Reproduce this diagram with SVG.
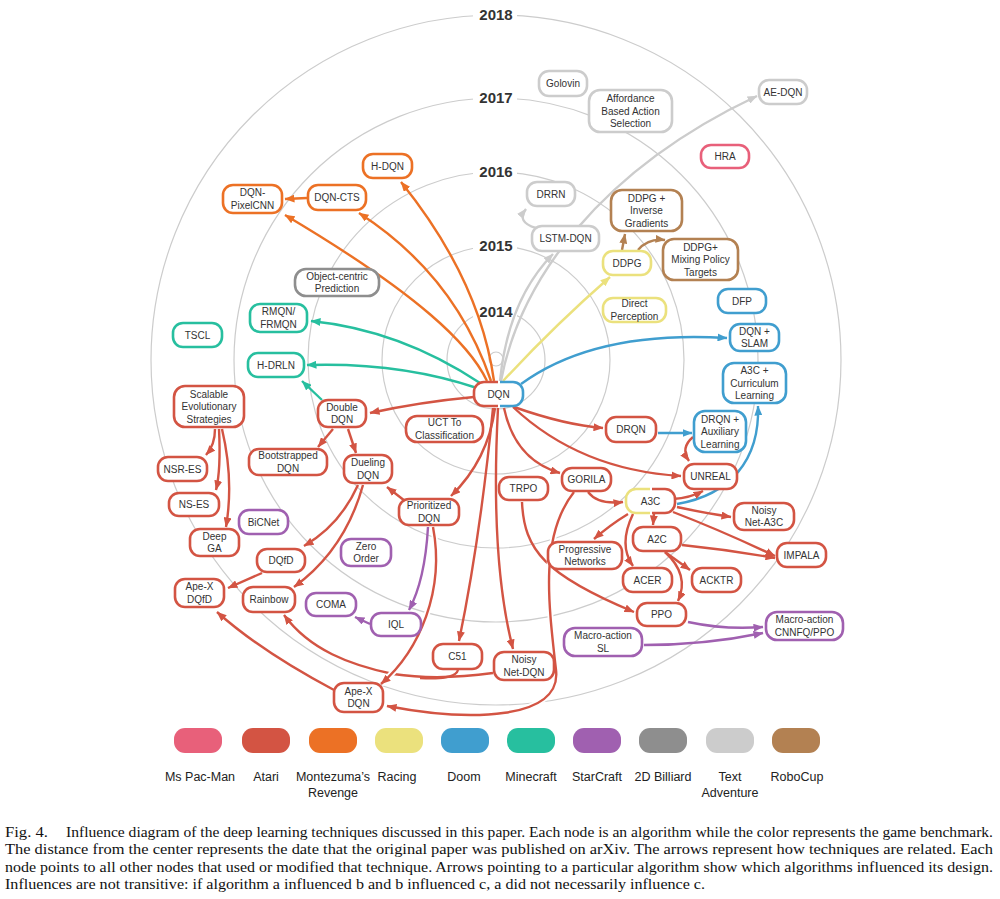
<svg xmlns="http://www.w3.org/2000/svg" width="1000" height="899" viewBox="0 0 1000 899">
<style>
.ring{fill:none;stroke:#cccccc;stroke-width:1.2}
.yr{font-family:"Liberation Sans",Arial,sans-serif;font-weight:bold;font-size:15px;fill:#333;text-anchor:middle}
.nd rect{fill:#fff;stroke-width:2.6}
.nd text{font-family:"Liberation Sans",Arial,sans-serif;font-size:10px;fill:#333;text-anchor:middle}
.pink{stroke:#e8607a}.red{stroke:#d35443}.org{stroke:#ec7125}.yel{stroke:#ebe17d}.blu{stroke:#409ecf}
.tea{stroke:#27bf9f}.pur{stroke:#a060b0}.dgr{stroke:#8e8e8e}.lgr{stroke:#cccccc}.brn{stroke:#b38152}
.e path{fill:none;stroke-width:2.4}
.e .red{marker-end:url(#a-red)}.e .org{marker-end:url(#a-org)}.e .yel{marker-end:url(#a-yel)}
.e .blu{marker-end:url(#a-blu)}.e .tea{marker-end:url(#a-tea)}.e .pur{marker-end:url(#a-pur)}
.e .lgr{marker-end:url(#a-lgr)}.e .brn{marker-end:url(#a-brn)}
.e .nm{marker-end:none}
.e .halo{stroke:#fff;stroke-width:6;marker-end:none}
.lg text{font-family:"Liberation Sans",Arial,sans-serif;font-size:12.5px;fill:#222;text-anchor:middle}
.cap{font-family:"Liberation Serif","Times New Roman",serif;font-size:14px;fill:#111}
</style>
<defs>
<marker id="a-red" viewBox="0 0 10 8" refX="9.5" refY="4" markerWidth="10" markerHeight="8" markerUnits="userSpaceOnUse" orient="auto"><path d="M0,0 L10,4 L0,8 z" fill="#d35443"/></marker>
<marker id="a-org" viewBox="0 0 10 8" refX="9.5" refY="4" markerWidth="10" markerHeight="8" markerUnits="userSpaceOnUse" orient="auto"><path d="M0,0 L10,4 L0,8 z" fill="#ec7125"/></marker>
<marker id="a-yel" viewBox="0 0 10 8" refX="9.5" refY="4" markerWidth="10" markerHeight="8" markerUnits="userSpaceOnUse" orient="auto"><path d="M0,0 L10,4 L0,8 z" fill="#ebe17d"/></marker>
<marker id="a-blu" viewBox="0 0 10 8" refX="9.5" refY="4" markerWidth="10" markerHeight="8" markerUnits="userSpaceOnUse" orient="auto"><path d="M0,0 L10,4 L0,8 z" fill="#409ecf"/></marker>
<marker id="a-tea" viewBox="0 0 10 8" refX="9.5" refY="4" markerWidth="10" markerHeight="8" markerUnits="userSpaceOnUse" orient="auto"><path d="M0,0 L10,4 L0,8 z" fill="#27bf9f"/></marker>
<marker id="a-pur" viewBox="0 0 10 8" refX="9.5" refY="4" markerWidth="10" markerHeight="8" markerUnits="userSpaceOnUse" orient="auto"><path d="M0,0 L10,4 L0,8 z" fill="#a060b0"/></marker>
<marker id="a-lgr" viewBox="0 0 10 8" refX="9.5" refY="4" markerWidth="10" markerHeight="8" markerUnits="userSpaceOnUse" orient="auto"><path d="M0,0 L10,4 L0,8 z" fill="#cccccc"/></marker>
<marker id="a-brn" viewBox="0 0 10 8" refX="9.5" refY="4" markerWidth="10" markerHeight="8" markerUnits="userSpaceOnUse" orient="auto"><path d="M0,0 L10,4 L0,8 z" fill="#b38152"/></marker>
<clipPath id="dqnL"><rect x="460" y="370" width="38" height="50"/></clipPath>
<clipPath id="dqnR"><rect x="500" y="370" width="40" height="50"/></clipPath>
<clipPath id="a3cL"><rect x="615" y="480" width="35" height="45"/></clipPath>
<clipPath id="a3cR"><rect x="652" y="480" width="35" height="45"/></clipPath>
</defs>
<rect width="1000" height="899" fill="#fff"/>

<g id="rings">
<circle class="ring" cx="496" cy="359" r="7"/>
<circle class="ring" cx="496" cy="360" r="49"/>
<circle class="ring" cx="496" cy="360" r="114"/>
<circle class="ring" cx="496" cy="360" r="188"/>
<circle class="ring" cx="496" cy="360" r="262"/>
<circle class="ring" cx="496" cy="360" r="345"/>
<rect x="473" y="6" width="44" height="18" fill="#fff"/>
<rect x="473" y="89" width="44" height="18" fill="#fff"/>
<rect x="473" y="163" width="44" height="18" fill="#fff"/>
<rect x="473" y="237" width="44" height="18" fill="#fff"/>
<rect x="473" y="303" width="44" height="18" fill="#fff"/>
<text class="yr" x="496" y="20">2018</text>
<text class="yr" x="496" y="103">2017</text>
<text class="yr" x="496" y="177">2016</text>
<text class="yr" x="496" y="251">2015</text>
<text class="yr" x="496" y="317">2014</text>
</g>

<g id="connectors" class="e">
<path class="org" d="M494 381 Q480 280 401 182"/>
<path class="org" d="M491 381 Q455 275 359 213"/>
<path class="org" d="M487 381 C470 345 420 295 285 215"/>
<path class="org" d="M307 198 L285 199"/>
<path class="tea" d="M480 383 Q400 330 311 321"/>
<path class="tea" d="M477 388 Q400 362 307 365"/>
<path class="tea" d="M322 400 L302 381"/>
<path class="yel" d="M503 381 Q555 325 610 277"/>
<path class="lgr" d="M500 381 Q508 300 553 254"/>
<path class="lgr" d="M501 381 C520 280 600 170 757 96"/>
<path class="lgr" d="M536 228 Q516 222 526 209"/>
<path class="brn" d="M622 250 L625 234"/>
<path class="brn" d="M638 250 Q648 238 665 240"/>
<path class="blu" d="M521 384 Q595 330 727 338"/>
<path class="blu" d="M658 433 L692 433"/>
<path class="blu" d="M677 504 C730 495 760 460 758 406"/>
<path class="red" d="M474 397 Q420 402 370 413"/>
<path class="red" d="M514 407 Q565 425 603 428"/>
<path class="red" d="M513 407 Q580 470 681 476"/>
<path class="red" d="M504 408 Q515 460 560 473"/>
<path class="red" d="M495 408 Q488 460 451 496"/>
<path class="red" d="M493 408 Q480 540 459 641"/>
<path class="red" d="M498 408 Q490 560 513 649"/>
<path class="red" d="M693 437 Q680 448 689 461"/>
<path class="red" d="M588 492 Q598 505 623 502"/>
<path class="red" d="M522 502 C524 550 545 575 634 612"/>
<path class="red nm" d="M458 670 C456 678 440 679 420 678"/>
<path class="red" d="M493 673 C450 679 420 678 393 674 C350 665 310 650 284 615"/>
<path class="halo" d="M574 492 C540 535 548 600 556 670 C562 720 470 722 387 706"/>
<path class="red" d="M574 492 C540 535 548 600 556 670 C562 720 470 722 387 706"/>
<path class="halo" d="M433 527 C445 590 420 650 381 684"/>
<path class="red" d="M433 527 C445 590 420 650 381 684"/>
<path class="red" d="M673 499 Q690 498 703 491"/>
<path class="red" d="M677 507 Q700 512 731 517"/>
<path class="red" d="M673 512 Q720 530 775 556"/>
<path class="red" d="M682 545 Q730 550 775 558"/>
<path class="red" d="M654 514 L653 525"/>
<path class="red" d="M628 514 Q610 525 594 539"/>
<path class="red" d="M633 514 Q618 545 633 566"/>
<path class="red" d="M665 552 L690 570"/>
<path class="red" d="M665 552 Q690 575 678 601"/>
<path class="red" d="M405 501 L387 487"/>
<path class="pur" d="M428 527 Q425 580 409 610"/>
<path class="pur" d="M370 624 L355 617"/>
<path class="red" d="M358 485 Q340 525 304 546"/>
<path class="red" d="M363 485 Q345 550 294 587"/>
<path class="red" d="M333 429 L318 447"/>
<path class="red" d="M348 429 L356 453"/>
<path class="red" d="M262 573 L228 588"/>
<path class="red" d="M334 690 Q262 652 217 612"/>
<path class="red" d="M215 429 Q215 445 206 455"/>
<path class="red" d="M219 429 Q221 470 216 490"/>
<path class="red" d="M222 429 Q234 480 226 527"/>
<path class="pur" d="M688 622 Q725 630 763 627"/>
<path class="pur" d="M644 645 Q705 645 763 633"/>
</g>

<g id="nodes" class="nd">
<g id="n-golovin"><rect class="lgr" x="539" y="71" width="48" height="25" rx="10"/><text x="563" y="87">Golovin</text></g>
<g id="n-affordance"><rect class="lgr" x="589" y="90" width="83" height="42" rx="11"/><text x="630.5" y="102"><tspan x="630.5">Affordance</tspan><tspan x="630.5" dy="12.5">Based Action</tspan><tspan x="630.5" dy="12.5">Selection</tspan></text></g>
<g id="n-aedqn"><rect class="lgr" x="759" y="80" width="48" height="24" rx="10"/><text x="783" y="95.6">AE-DQN</text></g>
<g id="n-hra"><rect class="pink" x="701" y="145" width="48" height="23" rx="10"/><text x="725" y="160">HRA</text></g>
<g id="n-drrn"><rect class="lgr" x="527" y="182" width="48" height="24" rx="10"/><text x="551" y="197.6">DRRN</text></g>
<g id="n-lstmdqn"><rect class="lgr" x="532" y="226" width="67" height="25" rx="10"/><text x="565.5" y="242">LSTM-DQN</text></g>
<g id="n-ddpgig"><rect class="brn" x="611" y="190" width="71" height="41" rx="11"/><text x="646.5" y="201.6"><tspan x="646.5">DDPG +</tspan><tspan x="646.5" dy="12.5">Inverse</tspan><tspan x="646.5" dy="12.5">Gradients</tspan></text></g>
<g id="n-ddpg"><rect class="yel" x="603" y="251" width="48" height="24" rx="10"/><text x="627" y="266.6">DDPG</text></g>
<g id="n-ddpgmpt"><rect class="brn" x="663" y="239" width="75" height="41" rx="11"/><text x="700.5" y="250.6"><tspan x="700.5">DDPG+</tspan><tspan x="700.5" dy="12.5">Mixing Policy</tspan><tspan x="700.5" dy="12.5">Targets</tspan></text></g>
<g id="n-directperception"><rect class="yel" x="603" y="298" width="63" height="24" rx="10"/><text x="634.5" y="307.4"><tspan x="634.5">Direct</tspan><tspan x="634.5" dy="12.5">Perception</tspan></text></g>
<g id="n-dfp"><rect class="blu" x="718" y="289" width="48" height="24" rx="10"/><text x="742" y="304.6">DFP</text></g>
<g id="n-dqnslam"><rect class="blu" x="730" y="324" width="49" height="27" rx="10"/><text x="754.5" y="334.9"><tspan x="754.5">DQN +</tspan><tspan x="754.5" dy="12.5">SLAM</tspan></text></g>
<g id="n-a3ccl"><rect class="blu" x="723" y="363" width="63" height="40" rx="11"/><text x="754.5" y="374.1"><tspan x="754.5">A3C +</tspan><tspan x="754.5" dy="12.5">Curriculum</tspan><tspan x="754.5" dy="12.5">Learning</tspan></text></g>
<g id="n-drqnal"><rect class="blu" x="694" y="411" width="52" height="41" rx="11"/><text x="720" y="422.6"><tspan x="720">DRQN +</tspan><tspan x="720" dy="12.5">Auxiliary</tspan><tspan x="720" dy="12.5">Learning</tspan></text></g>
<g id="n-drqn"><rect class="red" x="606" y="417" width="50" height="25" rx="10"/><text x="631" y="433">DRQN</text></g>
<g id="n-unreal"><rect class="red" x="684" y="464" width="53" height="25" rx="10"/><text x="710.5" y="480">UNREAL</text></g>
<g id="n-dqn"><rect x="474" y="382" width="49" height="24" rx="10" style="stroke:none"/><rect class="red" x="474" y="382" width="49" height="24" rx="10" clip-path="url(#dqnL)"/><rect class="blu" x="474" y="382" width="49" height="24" rx="10" clip-path="url(#dqnR)"/><text x="498.5" y="397.6">DQN</text></g>
<g id="n-uct"><rect class="red" x="406" y="416" width="77" height="26" rx="11"/><text x="444.5" y="426.4"><tspan x="444.5">UCT To</tspan><tspan x="444.5" dy="12.5">Classification</tspan></text></g>
<g id="n-gorila"><rect class="red" x="562" y="468" width="49" height="23" rx="10"/><text x="586.5" y="483">GORILA</text></g>
<g id="n-trpo"><rect class="red" x="499" y="477" width="49" height="23" rx="10"/><text x="523.5" y="492">TRPO</text></g>
<g id="n-a3c"><rect x="626" y="489" width="49" height="24" rx="10" style="stroke:none"/><rect class="yel" x="626" y="489" width="49" height="24" rx="10" clip-path="url(#a3cL)"/><rect class="red" x="626" y="489" width="49" height="24" rx="10" clip-path="url(#a3cR)"/><text x="650.5" y="504.6">A3C</text></g>
<g id="n-noisya3c"><rect class="red" x="734" y="503" width="60" height="27" rx="10"/><text x="764" y="513.9"><tspan x="764">Noisy</tspan><tspan x="764" dy="12.5">Net-A3C</tspan></text></g>
<g id="n-a2c"><rect class="red" x="633" y="527" width="48" height="24" rx="10"/><text x="657" y="542.6">A2C</text></g>
<g id="n-prognet"><rect class="red" x="548" y="542" width="74" height="27" rx="10"/><text x="585" y="552.9"><tspan x="585">Progressive</tspan><tspan x="585" dy="12.5">Networks</tspan></text></g>
<g id="n-impala"><rect class="red" x="777" y="543" width="49" height="24" rx="10"/><text x="801.5" y="558.6">IMPALA</text></g>
<g id="n-acer"><rect class="red" x="623" y="568" width="49" height="24" rx="10"/><text x="647.5" y="583.6">ACER</text></g>
<g id="n-acktr"><rect class="red" x="692" y="568" width="49" height="24" rx="10"/><text x="716.5" y="583.6">ACKTR</text></g>
<g id="n-ppo"><rect class="red" x="637" y="603" width="49" height="23" rx="10"/><text x="661.5" y="618">PPO</text></g>
<g id="n-macrocnnfq"><rect class="pur" x="766" y="612" width="77" height="28" rx="11"/><text x="804.5" y="623.4"><tspan x="804.5">Macro-action</tspan><tspan x="804.5" dy="12.5">CNNFQ/PPO</tspan></text></g>
<g id="n-macrosl"><rect class="pur" x="564" y="628" width="78" height="28" rx="11"/><text x="603" y="639.4"><tspan x="603">Macro-action</tspan><tspan x="603" dy="12.5">SL</tspan></text></g>
<g id="n-noisydqn"><rect class="red" x="494" y="652" width="60" height="28" rx="10"/><text x="524" y="663.4"><tspan x="524">Noisy</tspan><tspan x="524" dy="12.5">Net-DQN</tspan></text></g>
<g id="n-c51"><rect class="red" x="433" y="644" width="49" height="25" rx="10"/><text x="457.5" y="660">C51</text></g>
<g id="n-apexdqn"><rect class="red" x="334" y="683" width="49" height="29" rx="10"/><text x="358.5" y="694.9"><tspan x="358.5">Ape-X</tspan><tspan x="358.5" dy="12.5">DQN</tspan></text></g>
<g id="n-iql"><rect class="pur" x="371" y="613" width="50" height="23" rx="10"/><text x="396" y="628">IQL</text></g>
<g id="n-coma"><rect class="pur" x="306" y="593" width="50" height="23" rx="10"/><text x="331" y="608">COMA</text></g>
<g id="n-zeroorder"><rect class="pur" x="341" y="539" width="50" height="27" rx="10"/><text x="366" y="549.9"><tspan x="366">Zero</tspan><tspan x="366" dy="12.5">Order</tspan></text></g>
<g id="n-prioritized"><rect class="red" x="399" y="499" width="60" height="26" rx="10"/><text x="429" y="509.4"><tspan x="429">Prioritized</tspan><tspan x="429" dy="12.5">DQN</tspan></text></g>
<g id="n-rainbow"><rect class="red" x="243" y="587" width="52" height="25" rx="10"/><text x="269" y="603">Rainbow</text></g>
<g id="n-dqfd"><rect class="red" x="257" y="549" width="48" height="23" rx="10"/><text x="281" y="564">DQfD</text></g>
<g id="n-apexdqfd"><rect class="red" x="175" y="579" width="49" height="28" rx="10"/><text x="199.5" y="590.4"><tspan x="199.5">Ape-X</tspan><tspan x="199.5" dy="12.5">DQfD</tspan></text></g>
<g id="n-deepga"><rect class="red" x="190" y="529" width="49" height="27" rx="10"/><text x="214.5" y="539.9"><tspan x="214.5">Deep</tspan><tspan x="214.5" dy="12.5">GA</tspan></text></g>
<g id="n-bicnet"><rect class="pur" x="239" y="510" width="49" height="24" rx="10"/><text x="263.5" y="525.6">BiCNet</text></g>
<g id="n-nses"><rect class="red" x="169" y="493" width="50" height="23" rx="10"/><text x="194" y="508">NS-ES</text></g>
<g id="n-nsres"><rect class="red" x="158" y="457" width="49" height="24" rx="10"/><text x="182.5" y="472.6">NSR-ES</text></g>
<g id="n-scalablees"><rect class="red" x="174" y="386" width="70" height="41" rx="11"/><text x="209" y="397.6"><tspan x="209">Scalable</tspan><tspan x="209" dy="12.5">Evolutionary</tspan><tspan x="209" dy="12.5">Strategies</tspan></text></g>
<g id="n-bootstrapped"><rect class="red" x="249" y="449" width="78" height="26" rx="10"/><text x="288" y="459.4"><tspan x="288">Bootstrapped</tspan><tspan x="288" dy="12.5">DQN</tspan></text></g>
<g id="n-dueling"><rect class="red" x="344" y="455" width="48" height="28" rx="10"/><text x="368" y="466.4"><tspan x="368">Dueling</tspan><tspan x="368" dy="12.5">DQN</tspan></text></g>
<g id="n-double"><rect class="red" x="318" y="400" width="48" height="27" rx="10"/><text x="342" y="410.9"><tspan x="342">Double</tspan><tspan x="342" dy="12.5">DQN</tspan></text></g>
<g id="n-hdrln"><rect class="tea" x="248" y="353" width="56" height="24" rx="10"/><text x="276" y="368.6">H-DRLN</text></g>
<g id="n-rmqn"><rect class="tea" x="250" y="304" width="57" height="28" rx="10"/><text x="278.5" y="315.4"><tspan x="278.5">RMQN/</tspan><tspan x="278.5" dy="12.5">FRMQN</tspan></text></g>
<g id="n-tscl"><rect class="tea" x="173" y="323" width="49" height="24" rx="10"/><text x="197.5" y="338.6">TSCL</text></g>
<g id="n-objectcentric"><rect class="dgr" x="295" y="269" width="84" height="27" rx="11"/><text x="337" y="279.9"><tspan x="337">Object-centric</tspan><tspan x="337" dy="12.5">Prediction</tspan></text></g>
<g id="n-dqnpixelcnn"><rect class="org" x="223" y="185" width="59" height="28" rx="10"/><text x="252.5" y="196.4"><tspan x="252.5">DQN-</tspan><tspan x="252.5" dy="12.5">PixelCNN</tspan></text></g>
<g id="n-dqncts"><rect class="org" x="308" y="185" width="58" height="25" rx="10"/><text x="337" y="201">DQN-CTS</text></g>
<g id="n-hdqn"><rect class="org" x="363" y="154" width="49" height="24" rx="10"/><text x="387.5" y="169.6">H-DQN</text></g>
</g>

<g id="legend" class="lg">
<rect x="174" y="728" width="48" height="25" rx="11" fill="#e8607a"/>
<rect x="242" y="728" width="48" height="25" rx="11" fill="#d35443"/>
<rect x="309" y="728" width="48" height="25" rx="11" fill="#ec7125"/>
<rect x="375" y="728" width="48" height="25" rx="11" fill="#ebe17d"/>
<rect x="441" y="728" width="48" height="25" rx="11" fill="#409ecf"/>
<rect x="507" y="728" width="48" height="25" rx="11" fill="#27bf9f"/>
<rect x="573" y="728" width="48" height="25" rx="11" fill="#a060b0"/>
<rect x="639" y="728" width="48" height="25" rx="11" fill="#8e8e8e"/>
<rect x="706" y="728" width="48" height="25" rx="11" fill="#cccccc"/>
<rect x="772" y="728" width="48" height="25" rx="11" fill="#b38152"/>
<text x="200" y="781">Ms Pac-Man</text>
<text x="266" y="781">Atari</text>
<text x="333" y="781">Montezuma’s</text>
<text x="333" y="797">Revenge</text>
<text x="397" y="781">Racing</text>
<text x="464" y="781">Doom</text>
<text x="531" y="781">Minecraft</text>
<text x="597" y="781">StarCraft</text>
<text x="663" y="781">2D Billiard</text>
<text x="730" y="781">Text</text>
<text x="730" y="797">Adventure</text>
<text x="797" y="781">RoboCup</text>
</g>

<g id="caption" class="cap">
<text x="5" y="837" textLength="43" lengthAdjust="spacingAndGlyphs">Fig. 4.</text>
<text x="66" y="837" textLength="927" lengthAdjust="spacingAndGlyphs">Influence diagram of the deep learning techniques discussed in this paper. Each node is an algorithm while the color represents the game benchmark.</text>
<text x="5" y="854" textLength="988" lengthAdjust="spacingAndGlyphs">The distance from the center represents the date that the original paper was published on arXiv. The arrows represent how techniques are related. Each</text>
<text x="5" y="872" textLength="988" lengthAdjust="spacingAndGlyphs">node points to all other nodes that used or modified that technique. Arrows pointing to a particular algorithm show which algorithms influenced its design.</text>
<text x="5" y="889" textLength="700" lengthAdjust="spacingAndGlyphs">Influences are not transitive: if algorithm a influenced b and b influenced c, a did not necessarily influence c.</text>
</g>
</svg>
